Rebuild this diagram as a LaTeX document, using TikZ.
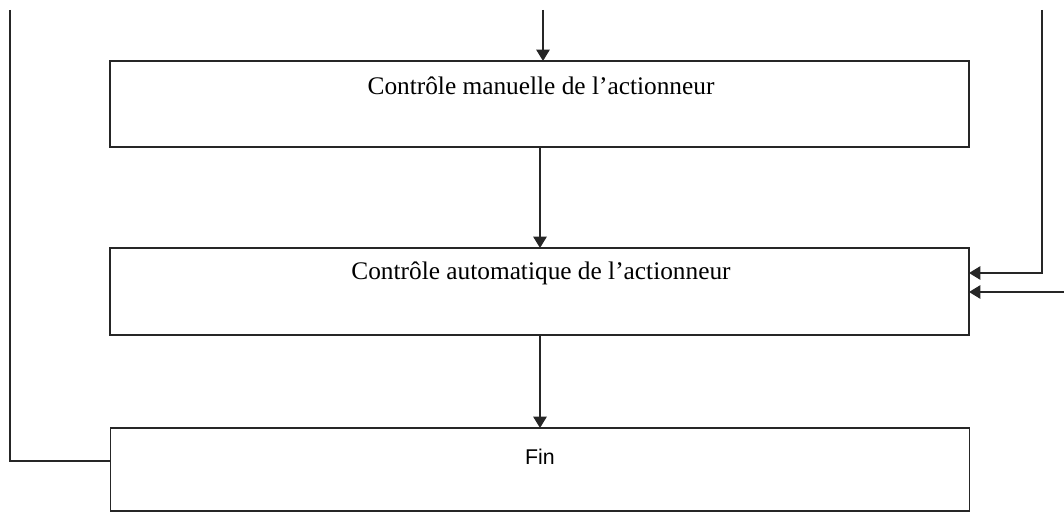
\documentclass[tikz,border=0pt]{standalone}
\usepackage{fontspec}
\setmainfont{Liberation Serif}
\newfontfamily\finfont{Liberation Sans}
\usetikzlibrary{arrows.meta}
\begin{document}
\begin{tikzpicture}[x=0.75pt,y=-0.75pt,
  box/.style={draw=black!85,line width=1.4pt,inner sep=0pt,outer sep=0pt,minimum width=644.25pt},
  lbl/.style={inner sep=0pt,font=\fontsize{19}{22}\selectfont},
  conn/.style={draw=black!85,line width=1.2pt},
  arr/.style={conn,-{Triangle[length=8.5pt,width=10pt]}}]
\useasboundingbox (0,0) rectangle (1064,513);
\node[box,minimum height=64.5pt] (b1) at (539.5,104) {};
\node[box,minimum height=65.25pt] (b2) at (539.5,291.5) {};
\node[box,minimum height=62.25pt] (fin) at (540,469.5) {};
\node[lbl] (t1) at (541,86) {Contrôle manuelle de l’actionneur};
\node[lbl] (t2) at (541,273) {Contrôle automatique de l’actionneur};
\node[inner sep=0pt,font=\finfont\fontsize{16}{19}\selectfont] (t3) at (540,457) {Fin};
\coordinate (top) at (543,10);
\coordinate (lt) at (10,10);
\coordinate (rt) at (1042,10);
\coordinate (re) at (1064,292);
\draw[arr] (top) -- (b1.north -| top);
\draw[arr] (b1.south -| 540,0) -- (b2.north -| 540,0);
\draw[arr] (b2.south -| 540,0) -- (fin.north -| 540,0);
\draw[conn] (lt) |- (fin.west |- 0,461);
\draw[arr] (rt) |- (b2.east |- 0,273);
\draw[arr] (re) -- (b2.east |- re);
\end{tikzpicture}
\end{document}
